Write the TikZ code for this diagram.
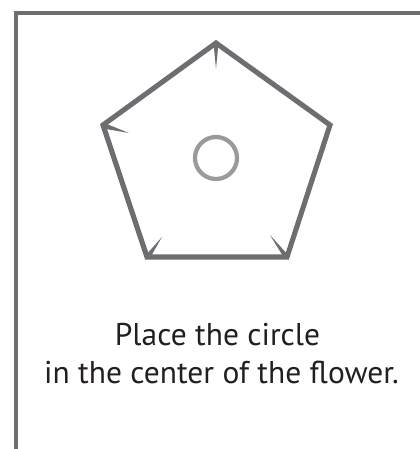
\documentclass[tikz,border=0pt]{standalone}
\usepackage{fontspec}
\setmainfont{PT Sans}
\usetikzlibrary{calc}
\definecolor{frame}{HTML}{6D6E71}
\definecolor{ring}{HTML}{999A9C}
\definecolor{txt}{HTML}{231F20}
\begin{document}
\begin{tikzpicture}[x=0.75pt,y=-0.75pt,
  edge/.style={draw=frame,line width=3.8pt,line join=miter},
  thorn/.style={fill=frame,draw=none},
  label/.style={text=txt,font=\fontsize{23.6}{28}\selectfont,anchor=base,inner sep=0pt}]
\useasboundingbox (0,0) rectangle (420,449);
\fill[white] (0,0) rectangle (420,449);
% frame
\draw[draw=frame,line width=3pt] (15.5,449) -- (15.5,13) -- (420,13);
% pentagon vertices
\coordinate (t) at (216,43);
\coordinate (r) at (330,125);
\coordinate (br) at (287,257);
\coordinate (bl) at (147,257);
\coordinate (l) at (103,125);
\draw[edge] (t) -- (r) -- (br) -- (bl) -- (l) -- cycle;
% thorns
\fill[thorn] ($(t)+(-2.5,0)$) -- ($(t)+(2.5,0)$) -- (216,69) -- cycle;
\fill[thorn] ($(l)+(0,-2.5)$) -- ($(l)+(0,3.5)$) -- (129,133) -- cycle;
\fill[thorn] ($(bl)+(-2,-1)$) -- ($(bl)+(3.5,0)$) -- (162,237) -- cycle;
\fill[thorn] ($(br)+(2,-1)$) -- ($(br)+(-3.5,0)$) -- (270,235) -- cycle;
% circle
\draw[draw=ring,line width=3.2pt] (216,158) circle[radius=21];
% text
\node[label] (msg1) at (217.5,345) {Place the circle};
\node[label] (msg2) at (221.5,383) {in the center of the flower.};
\end{tikzpicture}
\end{document}
